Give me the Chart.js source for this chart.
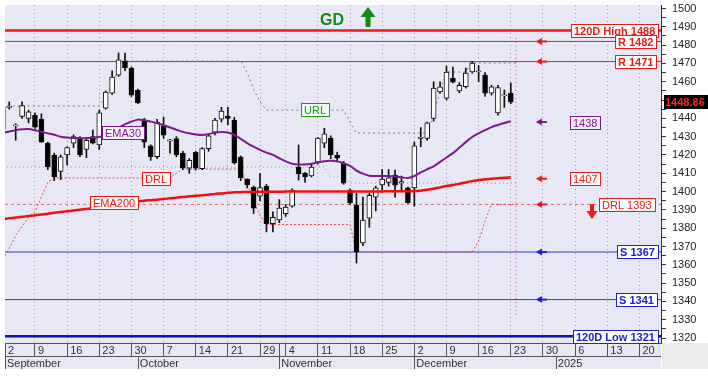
<!DOCTYPE html>
<html>
<head>
<meta charset="utf-8">
<script src="https://cdn.jsdelivr.net/npm/chart.js@4.4.1/dist/chart.umd.min.js"></script>
<style>
  html, body { margin: 0; padding: 0; background: #fff; }
  canvas { display: block; }
</style>
</head>
<body>
<canvas id="myChart" width="708" height="378"></canvas>
<script>
// x values are trading-day indexes: 0 = Sep 2 2024 (weekdays, Oct 28 skipped)
const opens = [1434,1446,1436,1441,1440,1441.7,1439.6,1426.5,1420,1411,
  1420,1426.5,1429,1423,1430,1425.5,1445.6,1453.8,1463.6,1471.3,
  1467.5,1455.5,1439,1425,1419,1435.8,1427.5,1429,1421,1412.8,
  1421.5,1412.5,1423.5,1432.5,1439.5,1441.3,1439,1418.9,1406.8,1402.5,
  1397.5,1403,1382.5,1384.5,1388,1392,1413.4,1409.9,1408.5,1416,
  1426.5,1429.2,1419.8,1415.6,1400.8,1392.6,1372,1385.5,1397,1403.6,
  1405,1409,1405,1402,1402,1429,1429,1440,1454.4,1451,
  1462,1455,1457.3,1465.3,1465.4,1463.6,1453.8,1443,1452.4,1453.8];
const highs = [1447,1449,1437,1449,1444.5,1443,1442.5,1427,1421,1420,
  1424.5,1431,1430,1429,1433.6,1444.5,1455,1466,1475.7,1475.7,
  1468,1456,1440,1425.5,1439.5,1440.7,1428.5,1430,1422,1418,
  1422,1424,1431,1440,1446,1446,1440.5,1419.5,1407,1403,
  1410,1404,1389,1395.6,1393,1401.5,1425.4,1410.5,1415,1429.5,
  1434.6,1430.5,1421.5,1416.5,1401.5,1399,1397,1399,1403,1412,
  1412,1411.7,1408.5,1402.4,1427,1435,1438,1460,1460,1468.5,
  1468,1459.5,1467.5,1471,1468.8,1465,1458,1458,1455.5,1459.3];
const lows = [1433,1445,1428,1440,1437.5,1434.5,1427,1412,1406,1406.5,
  1414.5,1424,1419,1418.5,1426,1423,1445,1453,1463,1466,
  1452,1448,1424,1417,1418,1429,1421,1419,1412,1410,
  1411.7,1412,1422,1431,1438,1436.5,1415,1406,1402,1388,
  1395,1378,1378,1383,1386.5,1391.5,1406.3,1405,1408,1415,
  1424,1418,1416.6,1404,1393,1361,1370.5,1380.5,1389.5,1400.8,
  1403,1397,1400,1393.5,1392,1424.5,1428,1438.5,1453.8,1450,
  1459.3,1454,1456.5,1464.7,1460,1452,1452.7,1441.7,1446,1448];
const closes = [1446,1446.5,1436.3,1447,1443.5,1435.2,1427,1413.4,1408,1419,
  1424,1430,1420,1428,1426.5,1443,1454.4,1462.6,1471.9,1467.5,
  1452.7,1448.4,1427,1419,1438,1430.8,1428.2,1420,1412.8,1417,
  1412.8,1423.5,1430.5,1439,1444,1440,1415.6,1407.4,1403.6,1391,
  1402.2,1382.5,1386,1391,1391.5,1400.8,1409.6,1408,1413.4,1429.2,
  1431.5,1420,1418.3,1404.6,1393.8,1367,1384.5,1398,1402,1406.8,
  1407.5,1403.5,1405.2,1394,1425,1429.8,1437.5,1456.5,1457.2,1465.3,
  1459.8,1458,1464.7,1470.2,1465.8,1453.8,1457.2,1456.8,1452.7,1448.86];

const ema30 = [1432,1432.8,1433.5,1434,1434.2,1433.5,1432.6,1431.8,1431,1430,
  1429.5,1429.3,1429.2,1429.2,1429.4,1429.8,1431,1432.8,1434.8,1436.8,
  1438.2,1439.3,1439,1438.2,1437.3,1436.3,1435,1433.8,1432.6,1431.8,
  1431.2,1430.9,1431.4,1432.2,1432.6,1432.3,1431,1428.8,1426.5,1424.5,
  1422.8,1421.3,1420,1418.2,1416.5,1415.2,1414.8,1414.8,1415.2,1416,
  1416.6,1416.8,1416.5,1415.5,1414,1411.5,1409.8,1408.7,1408.5,1408.5,
  1408.5,1408.2,1407.8,1407.4,1408.5,1410.5,1412.2,1413.8,1416.2,1418.6,
  1421,1424,1427,1429.8,1431.8,1433.6,1435.2,1436.4,1437.5,1438.4];
const ema200 = [1385,1385.4,1385.8,1386.2,1386.6,1387.1,1387.5,1387.9,1388.4,1388.8,
  1389.2,1389.7,1390.1,1390.5,1390.9,1391.3,1391.9,1392.5,1393.1,1393.7,
  1394.3,1394.6,1395,1395.3,1395.6,1396,1396.3,1396.7,1397,1397.4,
  1397.7,1398,1398.3,1398.7,1399,1399.3,1399.6,1399.7,1399.8,1399.8,
  1399.9,1399.9,1399.9,1399.9,1400,1400,1400,1400,1400,1400,
  1400,1400,1400,1400,1400.1,1400.1,1400.1,1400.1,1400.1,1400.1,
  1400.2,1400.2,1400.2,1400.2,1400.2,1400.5,1401,1401.6,1402.3,1403,
  1403.6,1404.3,1405,1405.7,1406.3,1406.7,1407,1407.3,1407.6,1407.8];

// stepped guide lines (vertices)
const drlX = [0,1,2,3,4,5,6,7,8,26,27,28,37,38,39,40,41,54,55,73,74,75,76,80];
const drlY = [1363,1369,1376,1381,1386,1389,1397,1405,1407.4,1407.4,1410,1412.3,1412.3,1404,1395,1387,1382,1382,1367,1367,1373,1384,1393,1393];
const urlX = [0,15,16,17,18,19,37,38,39,40,41,53,54,55,66,67,68,69,72,73,80];
const urlY = [1446.7,1446.7,1452,1459,1467,1471.3,1471.3,1465,1456,1449,1444.5,1444.5,1438,1432,1432,1442,1455,1465.3,1465.3,1470.2,1470.2];
const midX = [0,50,51,53,54,80];
const midY = [1413.4,1413.4,1408,1408,1404.6,1404.6];

const resistLevels = [1488, 1482, 1471];
const supportLevels = [1367, 1341, 1321];
const drlLevel = 1393;
const ema30Last = 1438;
const ema200Last = 1407;
const lastPrice = 1448.86;

const xMin = 0.34, xMax = 102.36;
const weekTicks = [0.34,5,10,15,20,25,30,35,40,43,44,49,54,59,64,69,74,79,84,89,94,99];
const weekLabels = ['2','9','16','23','30','7','14','21','29','','4','11','18','25','2','9','16','23','30','6','13','20'];
const monthTicks = [0.34,21,43,64,86];
const monthLabels = ['September','October','November','December','2025'];
const yTicks = [1320,1325,1330,1335,1340,1345,1350,1355,1360,1365,1370,1375,1380,1385,1390,1395,
  1400,1405,1410,1415,1420,1425,1430,1435,1440,1445,1450,1455,1460,1465,1470,1475,1480,1485,1490,1495,1500];

const FONT = '"Liberation Sans", Arial, sans-serif';
const ROW = 13;

function tag(ctx, text, x, y, color, bg, align, bold) {
  ctx.font = (bold ? 'bold ' : '') + '11px ' + FONT;
  const w = Math.round(ctx.measureText(text).width + 6);
  const h = 13;
  let left = align === 'right' ? x - w : (align === 'center' ? x - w / 2 : x);
  left = Math.round(left);
  const top = Math.round(y - h / 2);
  ctx.fillStyle = bg;
  ctx.fillRect(left, top, w, h);
  ctx.strokeStyle = color;
  ctx.lineWidth = 1;
  ctx.strokeRect(left + 0.5, top + 0.5, w, h);
  ctx.fillStyle = color;
  ctx.textAlign = 'left';
  ctx.textBaseline = 'middle';
  ctx.fillText(text, left + 3, top + h / 2 + 1);
}

function leftArrow(ctx, x, y, color) {
  ctx.fillStyle = color;
  ctx.beginPath();
  ctx.moveTo(x, y);
  ctx.lineTo(x + 6, y - 3.5);
  ctx.lineTo(x + 6, y + 3.5);
  ctx.closePath();
  ctx.fill();
  ctx.fillRect(x + 5, y - 1, 6, 2);
}

const decor = {
  id: 'decor',
  beforeDraw(chart) {
    const { ctx, chartArea: a } = chart;
    ctx.save();
    ctx.fillStyle = '#ffffff';
    ctx.fillRect(0, 0, chart.width, chart.height);
    ctx.fillStyle = '#E7E7F6';
    ctx.fillRect(a.left, a.top, a.right - a.left, a.bottom - a.top + 2 * ROW);
    ctx.fillStyle = '#EBEBEB';
    ctx.fillRect(a.right + 1, a.bottom, chart.width - a.right, 2 * ROW);
    ctx.restore();
  },
  afterDatasetsDraw(chart) {
    const { ctx, chartArea: a } = chart;
    const xs = chart.scales.x, ys = chart.scales.y;
    const red = '#F01818', blue = '#2020D0', purple = '#7D1A8C', green = '#1E9A1E';
    ctx.save();
    // line tags
    tag(ctx, 'EMA30', xs.getPixelForValue(18.7), ys.getPixelForValue(1432.2), purple, '#FAF4FA', 'center', false);
    tag(ctx, 'DRL', xs.getPixelForValue(23.8), ys.getPixelForValue(1407.4), red, '#FFF6F6', 'center', false);
    tag(ctx, 'EMA200', xs.getPixelForValue(17.3), ys.getPixelForValue(1394.3), red, '#FFF6F6', 'center', false);
    tag(ctx, 'URL', xs.getPixelForValue(48.6), ys.getPixelForValue(1444.8), green, '#EEFBEE', 'center', false);

    // arrows pointing back at the levels
    const ax = xs.getPixelForValue(82.9);
    leftArrow(ctx, ax, ys.getPixelForValue(resistLevels[1]), red);
    leftArrow(ctx, ax, ys.getPixelForValue(resistLevels[2]), red);
    leftArrow(ctx, ax, ys.getPixelForValue(ema30Last), purple);
    leftArrow(ctx, ax, ys.getPixelForValue(ema200Last), red);
    leftArrow(ctx, ax, ys.getPixelForValue(drlLevel), red);
    leftArrow(ctx, ax, ys.getPixelForValue(supportLevels[0]), blue);
    leftArrow(ctx, ax, ys.getPixelForValue(supportLevels[1]), blue);

    // level tags on the right
    const r = a.right - 3;
    tag(ctx, '120D High ' + resistLevels[0], r, ys.getPixelForValue(resistLevels[0]), red, '#ffffff', 'right', true);
    tag(ctx, 'R ' + resistLevels[1], r - 2, ys.getPixelForValue(resistLevels[1]), red, '#ffffff', 'right', true);
    tag(ctx, 'R ' + resistLevels[2], r - 2, ys.getPixelForValue(resistLevels[2]), red, '#ffffff', 'right', true);
    tag(ctx, String(ema30Last), xs.getPixelForValue(90.5), ys.getPixelForValue(ema30Last), purple, '#F6EEF6', 'center', false);
    tag(ctx, String(ema200Last), xs.getPixelForValue(90.6), ys.getPixelForValue(ema200Last), red, '#ffffff', 'center', false);
    tag(ctx, 'DRL ' + drlLevel, r - 3, ys.getPixelForValue(drlLevel), red, '#ffffff', 'right', false);
    tag(ctx, 'S ' + supportLevels[0], r, ys.getPixelForValue(supportLevels[0]), blue, '#ffffff', 'right', true);
    tag(ctx, 'S ' + supportLevels[1], r - 1, ys.getPixelForValue(supportLevels[1]), blue, '#ffffff', 'right', true);
    tag(ctx, '120D Low ' + supportLevels[2], r, ys.getPixelForValue(supportLevels[2]), blue, '#ffffff', 'right', true);

    // red down arrow under DRL tag
    ctx.fillStyle = red;
    ctx.fillRect(590, 204, 4, 8);
    ctx.beginPath();
    ctx.moveTo(586.5, 211); ctx.lineTo(597.5, 211); ctx.lineTo(592, 219); ctx.closePath();
    ctx.fill();

    // signal text and arrow at the top
    ctx.fillStyle = '#14891A';
    ctx.font = 'bold 16px ' + FONT;
    ctx.textAlign = 'left';
    ctx.textBaseline = 'alphabetic';
    ctx.fillText('GD', 320, 25);
    ctx.beginPath();
    ctx.moveTo(368, 7); ctx.lineTo(375.5, 17); ctx.lineTo(360.5, 17); ctx.closePath();
    ctx.fill();
    ctx.fillRect(365.5, 16, 5, 11);
    ctx.restore();
  },
  afterDraw(chart) {
    const { ctx, chartArea: a } = chart;
    const xs = chart.scales.x;
    const y = Math.round(chart.scales.y.getPixelForValue(lastPrice));
    ctx.save();
    // last price marker on the axis
    ctx.fillStyle = '#000';
    ctx.fillRect(a.right + 3, y - 7, chart.width - a.right, 14);
    ctx.fillStyle = '#FF2020';
    ctx.font = 'bold 11px ' + FONT;
    ctx.textBaseline = 'middle';
    ctx.textAlign = 'left';
    ctx.fillText(lastPrice.toFixed(2), a.right + 4, y + 1);

    // month row under the day row
    const top = Math.round(a.bottom) + ROW;
    ctx.strokeStyle = '#555';
    ctx.lineWidth = 1;
    ctx.beginPath();
    ctx.moveTo(a.left, top + 0.5);
    ctx.lineTo(a.right, top + 0.5);
    monthTicks.forEach(v => {
      const px = Math.round(xs.getPixelForValue(Math.max(v, xMin))) + 0.5;
      ctx.moveTo(px, top);
      ctx.lineTo(px, top + ROW);
    });
    ctx.stroke();
    ctx.fillStyle = '#333';
    ctx.font = '11px ' + FONT;
    ctx.textBaseline = 'top';
    monthLabels.forEach((t, i) => {
      const px = xs.getPixelForValue(Math.max(monthTicks[i], xMin));
      ctx.fillText(t, px + 2, top + 2);
    });
    ctx.restore();
  }
};

function levelLine(v, color, width, dash) {
  return {
    type: 'line',
    data: [{ x: xMin, y: v }, { x: xMax, y: v }],
    borderColor: color,
    borderWidth: width,
    borderDash: dash || [],
    pointRadius: 0,
    order: 10
  };
}

function pathLine(xsArr, ysArr, color, width, dash, order) {
  return {
    type: 'line',
    data: xsArr.map((x, i) => ({ x: x, y: ysArr[i] })),
    borderColor: color,
    borderWidth: width,
    borderDash: dash,
    pointRadius: 0,
    order: order
  };
}

const bodies = opens.map((o, i) => {
  let lo = Math.min(o, closes[i]), hi = Math.max(o, closes[i]);
  if (hi - lo < 0.6) { const m = (hi + lo) / 2; lo = m - 0.3; hi = m + 0.3; }
  return { x: i, y: [lo, hi] };
});
const wicks = lows.map((l, i) => ({ x: i, y: [l, highs[i]] }));
const dayIdx = opens.map((o, i) => i);

const ctx = document.getElementById('myChart').getContext('2d');
window.chart = new Chart(ctx, {
  type: 'bar',
  data: {
    datasets: [
      levelLine(resistLevels[0], '#F01818', 2.5),
      levelLine(resistLevels[1], '#F01818', 1),
      levelLine(resistLevels[2], '#F01818', 1),
      levelLine(drlLevel, '#EE6070', 1, [3, 3]),
      levelLine(supportLevels[0], '#3434D8', 1),
      levelLine(supportLevels[1], '#3434D8', 1),
      levelLine(supportLevels[2], '#1010B0', 2.5),
      pathLine(midX, midY, '#8C8C98', 1, [1, 3], 9),
      pathLine(urlX, urlY, '#7C7C84', 1, [2, 3], 8),
      pathLine(drlX, drlY, '#E04858', 1, [2, 2], 8),
      pathLine([79.8, 79.8], [1483.9, 1330.9], '#D04878', 1, [1, 3], 8),
      {
        label: 'wick',
        data: wicks,
        backgroundColor: '#111',
        barThickness: 1,
        grouped: false,
        order: 3
      },
      {
        label: 'body',
        data: bodies,
        backgroundColor: dayIdx.map(i => closes[i] >= opens[i] ? '#ffffff' : '#000000'),
        borderColor: '#111',
        borderWidth: 1,
        borderSkipped: false,
        barThickness: 5,
        grouped: false,
        order: 2
      },
      Object.assign(pathLine(dayIdx, ema200, '#F01010', 2.5, [], 1), { tension: 0.3 }),
      Object.assign(pathLine(dayIdx, ema30, '#7D1A8C', 2, [], 0), { tension: 0.3 })
    ]
  },
  options: {
    responsive: false,
    animation: false,
    layout: { padding: { left: 5, top: 5, right: 0, bottom: 22 }, autoPadding: false },
    plugins: { legend: { display: false }, tooltip: { enabled: false } },
    scales: {
      x: {
        type: 'linear',
        position: 'bottom',
        offset: false,
        min: xMin,
        max: xMax,
        afterBuildTicks: s => { s.ticks = weekTicks.map(v => ({ value: v })); },
        afterFit: s => { s.height = ROW; s.paddingLeft = 0; s.paddingRight = 0; },
        ticks: {
          autoSkip: false,
          maxRotation: 0,
          align: 'start',
          padding: -12,
          color: '#333',
          font: { family: FONT, size: 11 },
          callback: v => ' ' + (weekLabels[weekTicks.indexOf(v)] || '')
        },
        grid: {
          offset: false,
          color: c => (c.tick && (c.tick.value === 43 || c.tick.value === xMin)) ? 'rgba(0,0,0,0)' : '#9C9CB0',
          tickColor: '#555',
          tickLength: ROW,
          tickBorderDash: []
        },
        border: { color: '#555', dash: [1, 3] }
      },
      y: {
        type: 'linear',
        position: 'right',
        min: 1317.3,
        max: 1501.9,
        afterBuildTicks: s => { s.ticks = yTicks.map(v => ({ value: v })); },
        afterFit: s => { s.width = 47; s.paddingTop = 0; s.paddingBottom = 0; },
        ticks: {
          autoSkip: false,
          padding: 6,
          color: '#222',
          font: { family: FONT, size: 11 },
          callback: v => (v % 10 === 0 ? v : '')
        },
        grid: { drawOnChartArea: false, tickColor: '#333', tickLength: 5 },
        border: { color: '#333' }
      }
    }
  },
  plugins: [decor]
});
</script>
</body>
</html>
